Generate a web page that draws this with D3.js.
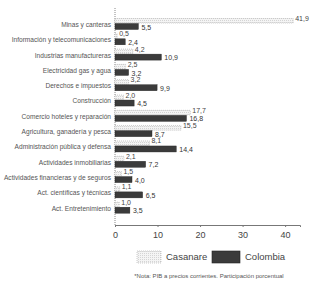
<!DOCTYPE html>
<html>
<head>
<meta charset="utf-8">
<script src="https://cdn.jsdelivr.net/npm/d3@7"></script>
<style>
  body { margin: 0; background: #fff; }
  svg { display: block; font-family: "Liberation Sans", Arial, sans-serif; }
</style>
</head>
<body>
<div id="chart"></div>
<script>
const categories = [
  "Minas y canteras",
  "Información y telecomunicaciones",
  "Industrias manufactureras",
  "Electricidad gas y agua",
  "Derechos e impuestos",
  "Construcción",
  "Comercio hoteles y reparación",
  "Agricultura, ganadería y pesca",
  "Administración pública y defensa",
  "Actividades inmobiliarias",
  "Actividades financieras y de seguros",
  "Act. científicas y técnicas",
  "Act. Entretenimiento"
];
const casanare = [41.9, 0.5, 4.2, 2.5, 3.2, 2.0, 17.7, 15.5, 8.1, 2.1, 1.5, 1.1, 1.0];
const colombia = [5.5, 2.4, 10.9, 3.2, 9.9, 4.5, 16.8, 8.7, 14.4, 7.2, 4.0, 6.5, 3.5];
const xTicks = [0, 10, 20, 30, 40];
const seriesNames = ["Casanare", "Colombia"];
const note = "*Nota: PIB a precios corrientes. Participación porcentual";

const W = 310, H = 284;
const fmt = (v) => v.toFixed(1).replace(".", ",");

const svg = d3.select("#chart").append("svg")
  .attr("width", W).attr("height", H);

// dotted fill for the light bars
const defs = svg.append("defs");
const pat = defs.append("pattern")
  .attr("id", "dots").attr("width", 2).attr("height", 2)
  .attr("patternUnits", "userSpaceOnUse");
pat.append("rect").attr("width", 2).attr("height", 2).attr("fill", "#f4f4f4");
pat.append("rect").attr("width", 1).attr("height", 1).attr("fill", "#d4d4d4");

const x = d3.scaleLinear().domain([0, 43.5]).range([115, 300]);
const y = d3.scaleBand().domain(categories).range([16, 215]);
const bw = y.bandwidth();

// y axis dotted line
svg.append("line")
  .attr("x1", x(0)).attr("x2", x(0))
  .attr("y1", 8).attr("y2", 225)
  .attr("stroke", "#888").attr("stroke-width", 1)
  .attr("stroke-dasharray", "1,1");

// x axis
const xAxis = svg.append("g")
  .attr("transform", "translate(0,225)")
  .call(d3.axisBottom(x).tickValues(xTicks).tickSize(2).tickPadding(5));
xAxis.select(".domain").attr("stroke", "#777");
xAxis.selectAll(".tick line").attr("stroke", "#777");
xAxis.selectAll("text").attr("fill", "#444").style("font-size", "9px");

// category labels
svg.selectAll(".cat").data(categories).enter().append("text")
  .attr("class", "cat")
  .attr("x", 111)
  .attr("y", (d) => y(d) + bw * 0.6)
  .attr("text-anchor", "end")
  .attr("dominant-baseline", "middle")
  .attr("fill", "#555")
  .style("font-size", "6.6px")
  .text((d) => d);

// Casanare bars
svg.selectAll(".cas").data(casanare).enter().append("rect")
  .attr("class", "cas")
  .attr("x", x(0))
  .attr("y", (d, i) => y(categories[i]) + 2.5)
  .attr("width", (d) => x(d) - x(0))
  .attr("height", 4.5)
  .attr("fill", "url(#dots)")
  .attr("stroke", "#aaa").attr("stroke-width", 0.6)
  .attr("stroke-dasharray", "1,1");

// Colombia bars
svg.selectAll(".col").data(colombia).enter().append("rect")
  .attr("class", "col")
  .attr("x", x(0))
  .attr("y", (d, i) => y(categories[i]) + 7.5)
  .attr("width", (d) => x(d) - x(0))
  .attr("height", 6)
  .attr("fill", "#3b3b3b")
  .attr("stroke", "#222").attr("stroke-width", 0.4);

// value labels
svg.selectAll(".casl").data(casanare).enter().append("text")
  .attr("class", "casl")
  .attr("x", (d) => x(d) + 2)
  .attr("y", (d, i) => y(categories[i]) + 5)
  .attr("fill", "#444")
  .style("font-size", "7px")
  .text(fmt);

svg.selectAll(".coll").data(colombia).enter().append("text")
  .attr("class", "coll")
  .attr("x", (d) => x(d) + 3)
  .attr("y", (d, i) => y(categories[i]) + 11.8)
  .attr("dominant-baseline", "middle")
  .attr("fill", "#333")
  .style("font-size", "7px")
  .text(fmt);

// legend
const legend = svg.append("g").attr("transform", "translate(0,251)");
const lx = [137, 212];
legend.selectAll("rect").data(seriesNames).enter().append("rect")
  .attr("x", (d, i) => lx[i]).attr("y", 0)
  .attr("width", (d, i) => i === 0 ? 24 : 28).attr("height", 12)
  .attr("fill", (d, i) => i === 0 ? "url(#dots)" : "#3b3b3b")
  .attr("stroke", (d, i) => i === 0 ? "#aaa" : "#222")
  .attr("stroke-width", 0.6)
  .attr("stroke-dasharray", (d, i) => i === 0 ? "1,1" : null);
legend.selectAll("text").data(seriesNames).enter().append("text")
  .attr("x", (d, i) => i === 0 ? lx[i] + 29 : lx[i] + 33).attr("y", 6.5)
  .attr("dominant-baseline", "middle")
  .attr("fill", "#444")
  .style("font-size", "9.5px")
  .text((d) => d);

// note
svg.append("text")
  .attr("x", 209).attr("y", 278)
  .attr("text-anchor", "middle")
  .attr("fill", "#555")
  .style("font-size", "6px")
  .text(note);
</script>
</body>
</html>
